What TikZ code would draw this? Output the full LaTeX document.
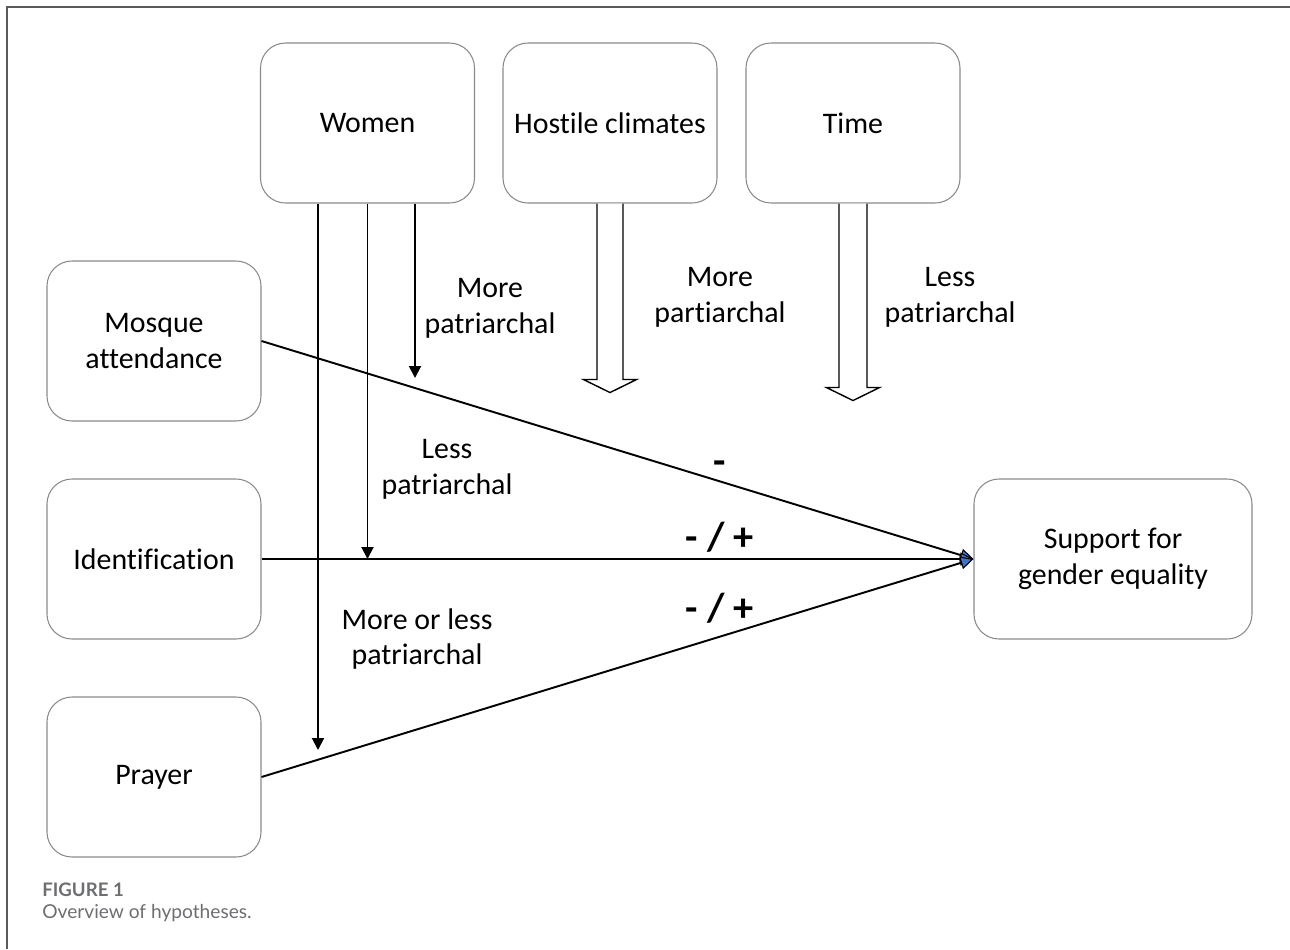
\documentclass[tikz,border=0pt]{standalone}
\usepackage{fontspec}
\setmainfont[Ligatures={NoCommon}]{Carlito}
\newfontfamily\capfont{Lato}
\usetikzlibrary{arrows.meta,positioning,calc}
\definecolor{BoxGrey}{HTML}{8A8A8A}
\definecolor{FrameGrey}{HTML}{5A5A5A}
\definecolor{CapGrey}{HTML}{6D6E71}
\definecolor{TipBlue}{HTML}{4472C4}
\tikzset{
  hyp/.style={draw=BoxGrey, line width=0.6pt, rounded corners=0.5cm, minimum width=4.28cm, minimum height=3.2cm, align=center, font=\fontsize{17}{20.4}\selectfont},
  lbl/.style={align=center, font=\fontsize{17}{20.4}\selectfont},
  sign/.style={font=\bfseries\fontsize{23}{27}\selectfont},
  effect/.style={line width=1.1pt, -{Triangle[length=0.26cm,width=0.26cm,fill=TipBlue,line width=0.6pt]}},
  moder/.style={line width=1.1pt, -{Triangle[length=0.24cm,width=0.24cm]}},
  blockarrow/.style={draw, line width=0.8pt, fill=white}
}

\begin{document}
\begin{tikzpicture}
    \useasboundingbox (0,0) rectangle (25.8,-18.98);
    \draw[FrameGrey, line width=0.85pt] (0.14,-18.98) -- (0.14,-0.14) -- (25.8,-0.14);

    % moderators on top
    \node[hyp] (women) at (7.35,-2.46) {Women};
    \node[hyp] (hostile) at (12.2,-2.46) {Hostile climates};
    \node[hyp] (time) at (17.06,-2.46) {Time};

    % religiosity
    \node[hyp] (mosque) at (3.08,-6.82) {Mosque\\attendance};
    \node[hyp] (ident) at (3.08,-11.18) {Identification};
    \node[hyp] (prayer) at (3.08,-15.54) {Prayer};
    \node[hyp, minimum width=5.56cm] (support) at (22.26,-11.18) {Support for\\gender equality};

    % main effects
    \draw[effect] (mosque.east) -- (support.west);
    \draw[effect] (ident.east) -- (support.west);
    \draw[effect] (prayer.east) -- (support.west);

    % gender moderation
    \coordinate (wtipA) at (6.36,-15.0);
    \coordinate (wtipC) at (8.3,-7.56);
    \draw[moder] (women.south -| wtipA) -- (wtipA);
    \draw[moder] (women.south) -- (women.south |- ident.east);
    \draw[moder] (women.south -| wtipC) -- (wtipC);

    % context moderation
    \draw[blockarrow] ([xshift=-0.26cm]hostile.south) -- ++(0,-3.52) -- ++(-0.27,0) -- ++(0.53,-0.26) -- ++(0.53,0.26) -- ++(-0.27,0) -- ++(0,3.52);
    \draw[blockarrow] ([xshift=-0.28cm]time.south) -- ++(0,-3.68) -- ++(-0.25,0) -- ++(0.53,-0.26) -- ++(0.53,0.26) -- ++(-0.25,0) -- ++(0,3.68);

    \node[lbl] (lblwomenA) at (9.8,-6.16) {More\\patriarchal};
    \node[lbl] (lblhostile) at (14.4,-5.94) {More\\partiarchal};
    \node[lbl] (lbltime) at (19.0,-5.94) {Less\\patriarchal};
    \node[lbl] (lblwomenB) at (8.94,-9.38) {Less\\patriarchal};
    \node[lbl] (lblwomenC) at (8.34,-12.78) {More or less\\patriarchal};

    \node[sign] (signmosque) at (14.4,-9.36) {-};
    \node[sign] (signident) at (14.4,-10.74) {- / +};
    \node[sign] (signprayer) at (14.4,-12.16) {- / +};

    % caption
    \node[anchor=west, inner sep=0pt, text=CapGrey, font=\capfont\bfseries\fontsize{10.6}{12}\selectfont] (capnum) at (0.84,-17.8) {FIGURE 1};
    \node[anchor=west, inner sep=0pt, text=CapGrey, font=\capfont\fontsize{10.9}{13}\selectfont] (captext) at (0.84,-18.26) {Overview of hypotheses.};
\end{tikzpicture}
\end{document}
